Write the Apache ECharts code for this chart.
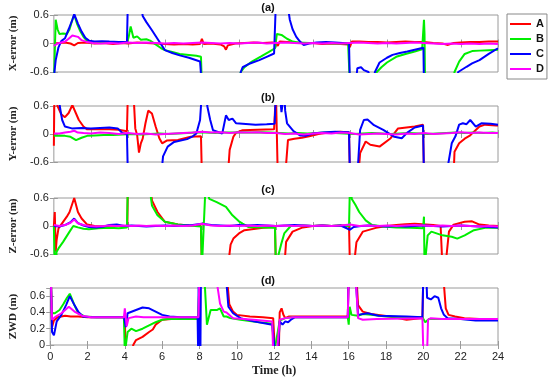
<!DOCTYPE html>
<html><head><meta charset="utf-8">
<script src="https://cdn.jsdelivr.net/npm/echarts@6/dist/echarts.min.js"></script>
<style>html,body{margin:0;padding:0;background:#fff}#c{width:550px;height:379px}</style>
</head><body><div id="c"></div><script>
// ---------- labels ----------
const seriesNames = ['A', 'B', 'C', 'D'];
const panelTitles = ['(a)', '(b)', '(c)', '(d)'];
const yNames = ['X-error (m)', 'Y-error (m)', 'Z-error (m)', 'ZWD (m)'];
const xName = 'Time (h)';
const xTicks = [0, 2, 4, 6, 8, 10, 12, 14, 16, 18, 20, 22, 24];
const errTicks = [-0.6, 0, 0.6];
const zwdTicks = [0, 0.2, 0.4, 0.6];

// ---------- (a) X-error : [time h, value m] ----------
const xErrA = [[0,0.0],[0.3,0.01],[0.6,0.02],[0.9,0.0],[1.1,-0.04],[1.3,0.01],[1.7,0.02],[2.2,0.0],[2.7,0.01],[3.2,-0.01],[3.7,0.01],[4.0,0.0],[4.5,0.02],[5.0,0.01],[5.5,0.0],[6.0,-0.01],[6.5,-0.02],[7.0,-0.01],[7.5,-0.02],[7.9,-0.01],[8.0,0.1],[8.1,-0.01],[8.5,0.0],[9.0,-0.02],[9.2,-0.06],[9.3,-0.13],[9.4,-0.04],[9.8,0.0],[10.3,0.01],[10.8,0.02],[11.3,0.01],[11.8,0.02],[12.0,0.01],[12.1,-0.05],[12.2,0.04],[12.6,0.03],[13.0,0.02],[13.5,0.01],[14.0,0.01],[14.5,-0.01],[15.0,0.0],[15.5,-0.01],[15.9,-0.02],[16.0,-0.07],[16.1,0.04],[16.5,0.04],[17.0,0.03],[17.5,0.03],[18.0,0.02],[18.5,0.03],[19.0,0.04],[19.5,0.03],[20.0,0.03],[20.5,0.01],[21.0,0.0],[21.3,-0.03],[21.6,0.01],[22.0,0.02],[22.5,0.03],[23.0,0.03],[23.5,0.04],[24,0.04]];
const xErrB = [[0,-0.9],[0.02,-0.6],[0.1,0.5],[0.2,0.3],[0.3,0.2],[0.5,0.21],[0.7,0.2],[0.85,0.3],[1.0,0.5],[1.1,0.6],[1.25,0.42],[1.4,0.28],[1.6,0.14],[1.8,0.05],[2.0,0.02],[2.5,0.02],[3.0,0.01],[3.5,0.02],[3.95,0.01],[4.05,0.15],[4.15,0.36],[4.3,0.12],[4.5,0.15],[4.7,0.08],[5.0,0.09],[5.2,0.06],[5.5,-0.02],[5.8,-0.1],[6.0,-0.14],[6.4,-0.18],[6.8,-0.22],[7.3,-0.24],[7.7,-0.26],[7.95,-0.28],[8.0,-0.9],[9.9,-0.9],[10.1,-0.6],[10.3,-0.5],[10.7,-0.38],[11.2,-0.27],[11.6,-0.18],[11.95,-0.1],[12.05,0.2],[12.3,0.18],[12.6,0.1],[12.9,0.04],[13.2,0.02],[13.8,0.01],[14.5,0.01],[15.2,0.0],[15.9,0.0],[16.0,-0.9],[17.3,-0.9],[17.45,-0.6],[17.7,-0.5],[18.0,-0.4],[18.5,-0.28],[19.0,-0.22],[19.5,-0.17],[19.9,-0.12],[20.0,0.5],[20.03,0.2],[20.06,-0.9],[21.5,-0.9],[21.65,-0.6],[21.9,-0.38],[22.2,-0.22],[22.6,-0.16],[23.0,-0.15],[23.5,-0.14],[24,-0.13]];
const xErrC = [[0,-0.9],[0.03,-0.6],[0.1,-0.35],[0.25,-0.08],[0.4,0.05],[0.6,0.11],[0.8,0.3],[1.0,0.5],[1.1,0.62],[1.3,0.42],[1.5,0.25],[1.7,0.12],[1.9,0.06],[2.2,0.04],[2.6,0.05],[3.0,0.04],[3.5,0.03],[3.95,0.03],[4.0,0.9],[4.7,0.9],[4.8,0.58],[5.0,0.45],[5.3,0.28],[5.65,0.07],[6.0,-0.14],[6.4,-0.2],[6.8,-0.25],[7.3,-0.3],[7.9,-0.38],[8.0,-0.9],[10.0,-0.9],[10.1,-0.6],[10.2,-0.5],[10.6,-0.42],[11.1,-0.35],[11.5,-0.28],[11.9,-0.21],[12.0,0.9],[12.6,0.9],[12.75,0.5],[12.9,0.3],[13.1,0.14],[13.3,0.04],[13.5,-0.03],[13.8,0.0],[14.2,0.02],[14.7,0.03],[15.2,0.02],[15.6,0.01],[15.95,0.0],[16.0,-0.9],[16.3,-0.9],[16.4,-0.52],[16.6,-0.5],[16.75,-0.56],[17.0,-0.6],[17.2,-0.9],[17.35,-0.6],[17.6,-0.4],[18.0,-0.3],[18.3,-0.24],[18.7,-0.2],[19.1,-0.17],[19.5,-0.13],[19.85,-0.1],[19.97,-0.09],[20.0,-0.9],[21.7,-0.9],[21.85,-0.6],[22.3,-0.49],[22.6,-0.42],[23.0,-0.35],[23.5,-0.22],[24,-0.1]];
const xErrD = [[0,-0.05],[0.2,0.0],[0.4,0.02],[0.6,0.04],[0.8,0.1],[1.0,0.17],[1.1,0.2],[1.3,0.14],[1.5,0.07],[1.8,0.03],[2.1,0.01],[2.5,0.0],[3.0,0.01],[3.5,0.0],[4.0,0.02],[4.5,0.01],[5.0,0.02],[5.5,0.01],[6.0,0.0],[6.5,0.01],[7.0,0.0],[7.5,0.01],[8.0,0.02],[8.5,0.01],[9.0,0.0],[9.5,0.01],[10.0,0.0],[10.5,0.01],[11.0,0.02],[11.5,0.0],[12.0,0.01],[12.5,0.02],[13.0,0.01],[13.5,0.0],[14.0,0.01],[14.5,0.0],[15.0,0.01],[15.5,0.0],[16.0,0.01],[16.5,0.02],[17.0,0.01],[17.5,0.0],[18.0,0.01],[18.5,0.0],[19.0,0.01],[19.5,0.02],[20.0,0.01],[20.5,0.0],[21.0,-0.01],[21.5,0.0],[22.0,-0.01],[22.5,0.0],[23.0,-0.01],[23.5,0.0],[24,-0.01]];

// ---------- (b) Y-error ----------
const yErrA = [[0,-0.25],[0.03,0.9],[0.2,0.6],[0.4,0.42],[0.6,0.36],[0.8,0.45],[1.0,0.62],[1.1,0.6],[1.35,0.3],[1.6,0.16],[1.8,0.1],[2.5,0.1],[3.0,0.1],[3.5,0.09],[3.95,0.06],[4.0,0.9],[4.3,0.9],[4.4,0.12],[4.5,-0.02],[4.6,-0.4],[4.7,-0.2],[4.8,-0.1],[4.95,0.23],[5.1,0.5],[5.3,0.44],[5.5,0.16],[5.7,-0.09],[5.85,-0.2],[6.1,-0.14],[6.7,-0.13],[7.4,-0.06],[7.95,-0.05],[8.0,-0.9],[9.4,-0.9],[9.5,-0.34],[9.7,-0.06],[9.85,0.03],[10.2,0.08],[11.0,0.09],[11.9,0.1],[12.0,0.9],[12.05,0.9],[12.1,-0.9],[12.5,-0.9],[12.65,-0.13],[13.0,-0.1],[13.4,-0.08],[13.8,-0.05],[14.3,0.0],[15.0,0.04],[15.5,0.05],[15.95,0.03],[16.0,-0.9],[16.45,-0.9],[16.55,-0.41],[16.85,-0.16],[17.1,-0.23],[17.6,-0.27],[18.2,-0.09],[18.6,0.12],[19.5,0.16],[19.95,0.2],[20.0,-0.9],[21.6,-0.9],[21.65,-0.38],[21.9,-0.2],[22.2,-0.1],[22.5,-0.03],[22.7,0.05],[23.0,0.16],[23.3,0.2],[23.9,0.18],[24,0.18]];
const yErrB = [[0,-0.04],[0.3,-0.03],[0.6,-0.04],[0.9,-0.06],[1.2,-0.13],[1.5,-0.08],[1.8,-0.04],[2.2,-0.03],[2.7,-0.02],[3.2,-0.02],[3.7,-0.01],[4.2,0.0],[4.7,-0.01],[5.2,0.0],[5.7,0.01],[6.2,0.0],[6.7,0.01],[7.2,0.02],[7.7,0.03],[8.2,0.03],[8.7,0.02],[9.2,0.03],[9.7,0.03],[10.2,0.04],[10.7,0.03],[11.2,0.04],[11.7,0.03],[12.2,0.02],[12.7,0.01],[13.2,0.02],[13.7,0.01],[14.2,0.02],[14.7,0.03],[15.2,0.02],[15.7,0.01],[16.2,0.0],[16.7,0.01],[17.2,0.02],[17.7,0.01],[18.2,0.0],[18.7,0.01],[19.2,0.02],[19.7,0.01],[20.2,0.0],[20.7,0.01],[21.2,0.02],[21.7,0.03],[22.2,0.02],[22.7,0.03],[23.2,0.02],[23.7,0.03],[24,0.02]];
const yErrC = [[0,0.9],[0.2,0.9],[0.37,0.48],[0.45,0.3],[0.6,0.16],[0.97,0.12],[1.5,0.13],[2.0,0.12],[2.5,0.13],[3.0,0.14],[3.45,0.12],[3.7,0.02],[3.95,0.0],[4.0,-0.9],[5.8,-0.9],[5.9,-0.48],[6.15,-0.27],[6.5,-0.17],[7.2,-0.11],[7.5,-0.05],[7.7,0.01],[7.9,0.3],[8.0,0.9],[8.2,0.9],[8.3,0.58],[8.45,0.3],[8.6,0.08],[9.1,0.01],[9.3,0.4],[9.45,0.3],[9.65,0.33],[9.85,0.23],[10.2,0.22],[10.9,0.2],[11.5,0.21],[11.93,0.22],[12.0,0.9],[12.2,0.9],[12.3,0.47],[12.45,0.9],[12.5,0.5],[12.6,0.23],[12.95,0.06],[13.3,-0.03],[13.6,-0.04],[14.0,0.01],[14.5,0.03],[15.2,0.05],[15.95,0.04],[16.0,-0.9],[16.4,-0.9],[16.55,0.09],[16.75,0.3],[16.95,0.31],[17.3,0.19],[17.8,0.09],[18.4,-0.06],[18.8,-0.09],[19.1,0.03],[19.5,0.14],[19.95,0.18],[20.0,-0.9],[21.2,-0.9],[21.5,-0.2],[21.7,-0.05],[21.9,0.2],[22.1,0.23],[22.3,0.21],[22.5,0.3],[22.8,0.16],[23.1,0.23],[23.6,0.22],[24,0.2]];
const yErrD = [[0,0.01],[0.3,0.01],[0.6,0.03],[0.9,0.05],[1.1,0.07],[1.3,0.03],[1.6,0.02],[2.0,0.01],[2.5,0.03],[3.0,0.02],[3.5,0.0],[4.0,0.02],[4.5,0.0],[5.0,0.01],[5.5,-0.01],[6.0,0.0],[6.5,0.01],[7.0,0.02],[7.5,0.03],[8.0,0.05],[8.5,0.03],[9.0,0.04],[9.5,0.02],[10.0,0.04],[10.5,0.03],[11.0,0.04],[11.5,0.02],[12.0,0.02],[12.5,0.0],[13.0,0.01],[13.5,-0.01],[14.0,0.01],[14.5,0.02],[15.0,0.01],[15.5,0.03],[16.0,0.02],[16.5,-0.01],[17.0,0.0],[17.5,0.01],[18.0,0.0],[18.5,-0.01],[19.0,0.01],[19.5,0.0],[20.0,0.02],[20.5,0.0],[21.0,0.01],[21.5,0.02],[22.0,0.04],[22.5,0.02],[23.0,0.03],[23.5,0.02],[24,0.02]];

// ---------- (c) Z-error ----------
const zErrA = [[0,0.0],[0.05,0.3],[0.1,-0.55],[0.15,-0.3],[0.25,-0.05],[0.5,0.09],[0.7,0.2],[0.85,0.3],[1.1,0.6],[1.3,0.3],[1.5,0.16],[1.8,0.03],[2.2,0.0],[2.7,-0.01],[3.2,0.01],[3.7,0.0],[3.97,0.0],[4.0,0.9],[5.2,0.9],[5.3,0.55],[5.6,0.3],[6.0,0.09],[6.7,0.03],[7.3,0.01],[7.95,0.0],[8.0,-0.9],[9.4,-0.9],[9.55,-0.4],[9.7,-0.27],[10.0,-0.16],[10.3,-0.09],[11.3,-0.04],[11.95,-0.02],[12.0,-0.9],[12.45,-0.9],[12.55,-0.34],[12.9,-0.12],[13.45,-0.03],[14.0,0.0],[14.5,0.01],[15.0,0.0],[15.5,0.01],[15.95,0.0],[16.0,-0.9],[16.2,-0.9],[16.35,-0.35],[16.7,-0.12],[17.4,-0.04],[18.0,0.0],[18.5,0.02],[19.0,0.04],[19.5,0.05],[19.9,0.04],[20.5,0.02],[20.9,0.0],[21.0,-0.9],[21.15,-0.9],[21.35,-0.12],[21.6,0.03],[22.2,0.09],[22.6,0.1],[23.0,0.03],[23.5,0.01],[24,0.0]];
const zErrB = [[0,0.0],[0.05,-0.9],[0.15,-0.55],[0.25,-0.48],[0.5,-0.34],[0.85,-0.12],[1.05,0.0],[1.3,-0.03],[1.6,-0.06],[1.9,-0.07],[2.4,-0.05],[3.0,-0.04],[3.5,-0.05],[3.95,-0.03],[4.0,0.9],[5.15,0.9],[5.3,0.44],[5.6,0.23],[6.0,0.09],[6.7,0.03],[7.3,0.01],[7.95,-0.01],[8.0,-0.9],[8.1,-0.9],[8.2,0.9],[8.4,0.58],[8.8,0.51],[9.3,0.41],[9.65,0.23],[10.0,0.1],[10.2,0.05],[10.5,-0.02],[11.3,-0.03],[11.95,-0.04],[12.0,-0.9],[12.15,-0.6],[12.27,-0.41],[12.45,-0.16],[12.8,0.0],[13.5,0.01],[14.0,0.0],[14.5,0.01],[15.0,0.0],[15.5,0.01],[15.95,0.0],[16.0,0.9],[16.1,0.58],[16.3,0.45],[16.5,0.3],[16.85,0.12],[17.2,0.02],[17.8,-0.01],[18.5,-0.03],[19.3,-0.04],[19.95,-0.05],[20.0,0.2],[20.03,-0.9],[20.1,-0.9],[20.2,-0.2],[20.4,-0.12],[21.0,-0.2],[21.5,-0.23],[21.8,-0.27],[22.2,-0.2],[22.7,-0.09],[23.3,-0.04],[24,-0.04]];
const zErrC = [[0,0.0],[0.3,-0.01],[0.6,0.02],[0.9,0.08],[1.1,0.16],[1.3,0.06],[1.6,0.01],[1.9,-0.02],[2.3,-0.03],[2.7,-0.01],[3.0,0.02],[3.4,0.03],[3.8,0.0],[4.2,0.01],[4.6,0.0],[5.0,-0.01],[5.5,0.0],[6.0,0.01],[6.5,0.0],[7.0,0.01],[7.5,0.02],[8.0,0.05],[8.5,0.02],[9.0,0.01],[9.5,0.0],[10.0,0.02],[10.5,0.01],[11.0,0.02],[11.5,0.01],[12.0,0.0],[12.5,0.01],[13.0,0.02],[13.5,0.01],[14.0,0.0],[14.5,0.01],[15.0,0.0],[15.5,0.01],[16.0,-0.08],[16.2,-0.02],[16.6,0.0],[17.0,0.01],[17.5,0.0],[18.0,-0.01],[18.5,0.0],[19.0,-0.01],[19.5,0.0],[20.0,0.01],[20.5,0.0],[21.0,-0.01],[21.5,0.0],[22.0,0.01],[22.5,0.0],[23.0,-0.01],[23.5,-0.02],[24,-0.03]];
const zErrD = [[0,0.02],[0.3,0.0],[0.6,0.02],[0.9,0.07],[1.1,0.14],[1.3,0.06],[1.6,0.02],[1.9,0.0],[2.3,-0.01],[2.7,0.0],[3.0,0.01],[3.4,0.0],[3.8,0.01],[4.2,0.0],[4.6,0.01],[5.0,0.0],[5.5,0.01],[6.0,0.0],[6.5,0.01],[7.0,0.0],[7.5,0.01],[8.0,0.05],[8.5,0.01],[9.0,0.0],[9.5,0.01],[10.0,0.0],[10.5,0.01],[11.0,0.0],[11.5,0.01],[12.0,0.0],[12.5,0.01],[13.0,0.0],[13.5,0.01],[14.0,0.0],[14.5,0.01],[15.0,0.0],[15.5,0.01],[16.0,0.03],[16.5,0.0],[17.0,0.01],[17.5,0.0],[18.0,0.01],[18.5,0.0],[19.0,0.01],[19.5,0.02],[20.0,0.01],[20.5,0.0],[21.0,0.01],[21.5,0.0],[22.0,0.01],[22.5,0.0],[23.0,-0.01],[23.5,0.0],[24,-0.01]];

// ---------- (d) ZWD ----------
const zwdA = [[0,0.9],[0.05,0.7],[0.1,0.22],[0.2,0.3],[0.4,0.34],[0.8,0.36],[1.1,0.35],[1.5,0.35],[2,0.34],[3,0.34],[3.95,0.34],[4.0,0.3],[4.05,-0.1],[4.4,-0.1],[4.45,0.0],[4.6,0.06],[4.95,0.1],[5.3,0.16],[5.5,0.19],[5.65,0.25],[6.0,0.31],[6.5,0.32],[7.5,0.32],[7.95,0.32],[8.0,0.9],[9.45,0.9],[9.6,0.5],[9.8,0.41],[10.0,0.37],[10.7,0.35],[11.4,0.34],[11.95,0.33],[12.05,-0.1],[12.25,-0.1],[12.3,0.4],[12.4,0.45],[12.5,0.37],[12.6,0.33],[12.8,0.35],[13.1,0.35],[14,0.35],[15,0.35],[15.95,0.35],[16.0,0.9],[16.4,0.9],[16.5,0.49],[16.75,0.41],[17.2,0.38],[18.2,0.35],[19.1,0.31],[19.95,0.33],[20.0,0.9],[21.05,0.9],[21.2,0.45],[21.35,0.37],[21.7,0.35],[22.2,0.33],[23,0.32],[24,0.31]];
const zwdB = [[0,0.9],[0.05,0.7],[0.1,0.39],[0.25,0.39],[0.5,0.43],[0.7,0.5],[0.9,0.58],[1.05,0.63],[1.3,0.49],[1.5,0.39],[1.85,0.35],[2.5,0.34],[3.95,0.34],[4.0,-0.1],[4.05,-0.1],[4.15,0.16],[4.35,0.2],[4.6,0.17],[4.95,0.2],[5.3,0.24],[5.65,0.28],[6.0,0.31],[6.3,0.32],[7.95,0.32],[8.0,0.9],[8.25,0.9],[8.4,0.25],[8.6,0.43],[8.95,0.43],[9.1,0.45],[9.3,0.35],[9.45,0.35],[9.65,0.33],[10.2,0.31],[10.9,0.29],[11.9,0.26],[12.0,-0.1],[12.1,-0.1],[12.3,0.3],[12.6,0.33],[13,0.34],[15.95,0.34],[16.0,0.25],[16.05,0.47],[16.15,0.37],[16.5,0.36],[16.75,0.38],[17.2,0.37],[18,0.35],[19,0.34],[19.95,0.34],[20.0,0.32],[20.1,0.28],[20.3,0.32],[21,0.32],[22,0.32],[24,0.31]];
const zwdC = [[0,0.9],[0.05,0.7],[0.1,0.16],[0.2,0.12],[0.35,0.29],[0.6,0.37],[0.85,0.49],[1.05,0.6],[1.3,0.49],[1.5,0.41],[1.75,0.35],[2.2,0.34],[3,0.34],[3.95,0.34],[4.0,0.29],[4.05,0.22],[4.15,0.39],[4.6,0.43],[4.95,0.46],[5.3,0.45],[5.65,0.41],[6.0,0.37],[6.4,0.35],[7.0,0.34],[7.9,0.34],[7.93,-0.1],[7.96,0.9],[7.99,-0.1],[8.02,0.9],[8.05,-0.1],[8.08,0.9],[9.4,0.9],[9.55,0.47],[9.8,0.39],[10.2,0.33],[10.9,0.29],[11.9,0.25],[12.05,-0.1],[12.2,-0.1],[12.3,0.29],[12.45,0.25],[12.6,0.29],[12.75,0.28],[12.9,0.31],[13.1,0.34],[14,0.34],[15.95,0.34],[16.0,0.9],[16.35,0.9],[16.5,0.37],[17.0,0.39],[17.6,0.36],[19.1,0.35],[19.95,0.34],[20.0,0.9],[20.15,0.9],[20.2,0.58],[20.4,0.56],[20.6,0.6],[20.8,0.58],[20.95,0.45],[21.1,0.37],[21.3,0.33],[22.0,0.32],[22.8,0.3],[24,0.3]];
const zwdD = [[0,0.9],[0.05,0.7],[0.1,0.31],[0.3,0.35],[0.6,0.39],[1.0,0.47],[1.3,0.41],[1.7,0.36],[2.2,0.34],[3.95,0.34],[4.0,0.45],[4.1,0.23],[4.2,0.33],[4.6,0.35],[5,0.34],[7.95,0.34],[8.0,0.9],[8.85,0.9],[9.1,0.51],[9.3,0.41],[9.45,0.4],[9.8,0.33],[10.9,0.31],[11.9,0.29],[11.95,-0.1],[12.15,-0.1],[12.3,0.31],[12.6,0.33],[13,0.34],[15.95,0.34],[16.0,0.9],[16.35,0.9],[16.5,0.33],[16.75,0.31],[17.5,0.32],[19.95,0.33],[20.0,-0.1],[20.2,-0.1],[20.25,0.31],[20.4,0.33],[21,0.32],[24,0.32]];

const panels = [
  [xErrA, xErrB, xErrC, xErrD],
  [yErrA, yErrB, yErrC, yErrD],
  [zErrA, zErrB, zErrC, zErrD],
  [zwdA, zwdB, zwdC, zwdD]
];
const colors = ['#ff0000', '#00ee00', '#0000ff', '#ff00ff'];

// ---------- layout ----------
const gridTops = [15, 106, 198, 288];
const gridHeights = [57, 56, 56, 57];
const titleY = [8, 98, 190, 281];
const sans = 'Liberation Sans';
const serif = 'Liberation Serif';
const boxColor = '#9a9a9a';

const grids = [], xAxes = [], yAxes = [], series = [], graphics = [];
for (let p = 0; p < 4; p++) {
  grids.push({left: 38, right: 52, top: gridTops[p], height: gridHeights[p], show: true, borderColor: boxColor, borderWidth: 1, containLabel: false});
  const isLast = p === 3;
  xAxes.push({
    type: 'value', gridIndex: p, min: xTicks[0], max: xTicks[xTicks.length-1], interval: xTicks[1]-xTicks[0], position: 'bottom',
    axisLine: {show: false}, splitLine: {show: false},
    axisTick: {show: true, inside: true, length: 4, lineStyle: {color: boxColor}},
    axisLabel: {show: isLast, fontFamily: sans, fontSize: 11, color: '#222', margin: 6},
    name: isLast ? xName : '', nameLocation: 'middle', nameGap: 20,
    nameTextStyle: {fontFamily: serif, fontWeight: 'bold', fontSize: 12, color: '#222'}
  });
  xAxes.push({
    type: 'value', gridIndex: p, min: xTicks[0], max: xTicks[xTicks.length-1], interval: xTicks[1]-xTicks[0], position: 'top',
    axisLine: {show: false}, splitLine: {show: false}, axisLabel: {show: false},
    axisTick: {show: true, inside: true, length: 4, lineStyle: {color: boxColor}}
  });
  const ticks = isLast ? zwdTicks : errTicks;
  const yMin = isLast ? 0 : -0.6, yMax = isLast ? 0.7 : 0.6;
  const yInt = ticks[1] - ticks[0];
  yAxes.push({
    type: 'value', gridIndex: p, min: yMin, max: yMax, interval: yInt, position: 'left',
    axisLine: {show: false}, splitLine: {show: false},
    axisTick: {show: true, inside: true, length: 4, lineStyle: {color: boxColor}},
    axisLabel: {fontFamily: sans, fontSize: 11, color: '#222', margin: 5, showMaxLabel: !isLast},
    name: yNames[p], nameLocation: 'middle', nameGap: 23,
    nameTextStyle: {fontFamily: serif, fontWeight: 'bold', fontSize: 11, color: '#222'}
  });
  yAxes.push({
    type: 'value', gridIndex: p, min: yMin, max: yMax, interval: yInt, position: 'right',
    axisLine: {show: false}, splitLine: {show: false}, axisLabel: {show: false},
    axisTick: {show: true, inside: true, length: 4, lineStyle: {color: boxColor}}
  });
  for (let s = 0; s < 4; s++) {
    series.push({
      type: 'line', name: seriesNames[s], data: panels[p][s],
      xAxisIndex: p * 2, yAxisIndex: p * 2,
      showSymbol: false, symbol: 'none', clip: true,
      lineStyle: {color: colors[s], width: 2}, itemStyle: {color: colors[s]},
      z: 2 + s
    });
  }
  graphics.push({type: 'text', x: 268, y: titleY[p], style: {text: panelTitles[p], font: 'bold 11px ' + sans, fill: '#111', textAlign: 'center', textVerticalAlign: 'middle'}});
}

const chart = echarts.init(document.getElementById('c'), null, {renderer: 'canvas'});
chart.setOption({
  animation: false,
  backgroundColor: '#fff',
  grid: grids, xAxis: xAxes, yAxis: yAxes, series: series,
  graphic: graphics,
  legend: {
    data: seriesNames, orient: 'vertical', left: 507, top: 14,
    icon: 'rect', itemWidth: 21, itemHeight: 2, itemGap: 3,
    padding: [4, 3, 4, 3], borderColor: '#888', borderWidth: 1, backgroundColor: '#fff',
    textStyle: {fontFamily: sans, fontWeight: 'bold', fontSize: 11, color: '#111', lineHeight: 12}
  }
});
</script></body></html>
